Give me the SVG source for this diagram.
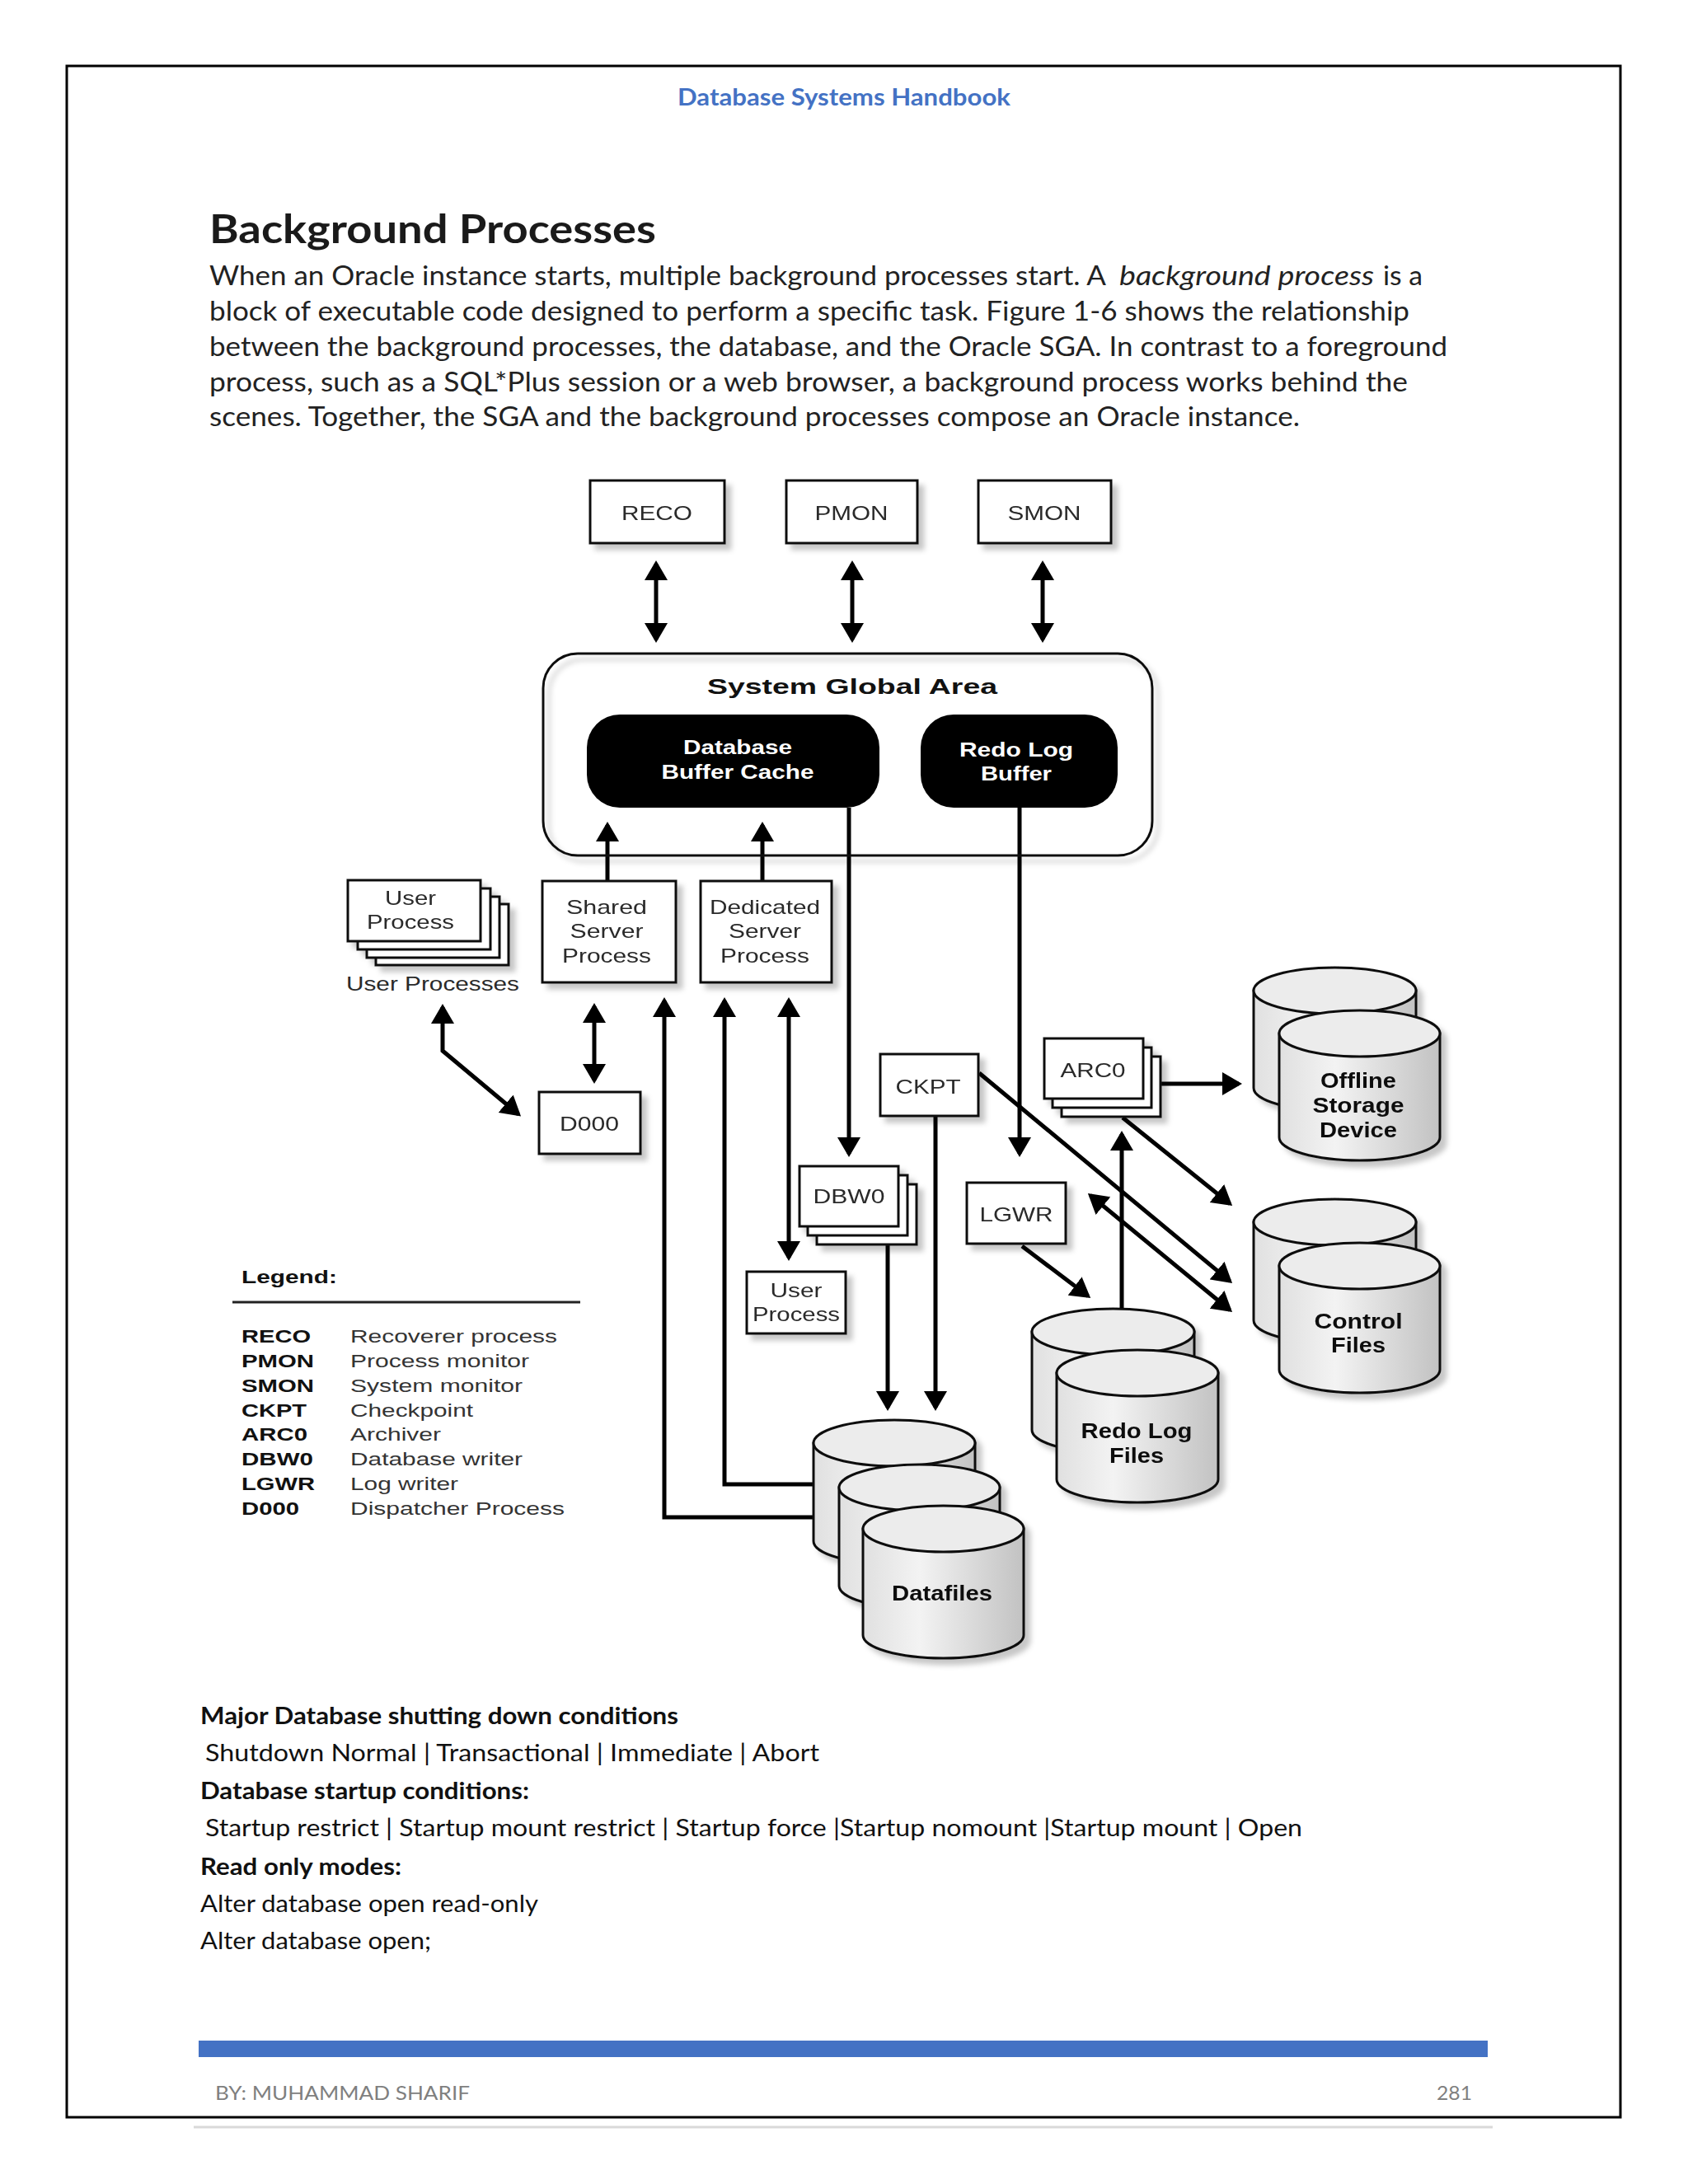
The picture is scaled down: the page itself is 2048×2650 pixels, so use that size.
<svg xmlns="http://www.w3.org/2000/svg" width="2048" height="2650" viewBox="0 0 2048 2650">
<defs>
<style>
.lbl{font-family:"Liberation Sans",Arial,sans-serif;font-size:24px;fill:#2a2a2a;text-anchor:middle}
.lblb{font-family:"Liberation Sans",Arial,sans-serif;font-size:25px;font-weight:bold;fill:#111;text-anchor:middle}
.wl{font-family:"Liberation Sans",Arial,sans-serif;font-size:23px;font-weight:bold;fill:#fff;text-anchor:middle}
.box{fill:#fff;stroke:#111;stroke-width:3}
.conn{fill:none;stroke:#000;stroke-width:5}
.cyl{fill:url(#cg);stroke:#111;stroke-width:3}
.cyltop{fill:#ececec;stroke:#111;stroke-width:3}
.leg{font-family:"Liberation Sans",Arial,sans-serif;font-size:22px;fill:#333}
.legb{font-family:"Liberation Sans",Arial,sans-serif;font-size:22px;font-weight:bold;fill:#111}
.para{font-family:Lato,"Liberation Sans",sans-serif;font-size:32px;fill:#222}
.body{font-family:Lato,"Liberation Sans",sans-serif;font-size:28px;fill:#111}
.bodyb{font-family:Lato,"Liberation Sans",sans-serif;font-size:28px;font-weight:bold;fill:#111}
</style>
<linearGradient id="cg" x1="0" x2="1" y1="0" y2="0">
<stop offset="0" stop-color="#e0e0e0"/><stop offset="0.35" stop-color="#f3f3f3"/><stop offset="1" stop-color="#c2c2c2"/>
</linearGradient>
<filter id="sh" x="-10%" y="-10%" width="130%" height="130%">
<feDropShadow dx="7" dy="7" stdDeviation="3" flood-color="#000" flood-opacity="0.22"/>
</filter>
<marker id="ah" viewBox="0 0 24 28" refX="20" refY="14" markerWidth="24" markerHeight="28" markerUnits="userSpaceOnUse" orient="auto-start-reverse">
<path d="M0,0 L24,14 L0,28 z" fill="#000"/>
</marker>
</defs>

<rect x="0" y="0" width="2048" height="2650" fill="#fff"/>
<rect x="81" y="80" width="1885" height="2489" fill="none" stroke="#000" stroke-width="3"/>

<g id="header">
<text x="1024" y="128" text-anchor="middle" font-family="Lato,'Liberation Sans',sans-serif" font-size="28" font-weight="bold" fill="#4472C4" textLength="404" lengthAdjust="spacingAndGlyphs">Database Systems Handbook</text>
</g>

<g id="intro">
<text x="254" y="295" font-family="Lato,'Liberation Sans',sans-serif" font-size="48" font-weight="bold" fill="#1a1a1a" textLength="542" lengthAdjust="spacingAndGlyphs">Background Processes</text>
<text class="para" x="254" y="346" textLength="1088" lengthAdjust="spacingAndGlyphs">When an Oracle instance starts, multiple background processes start. A</text>
<text class="para" x="1358" y="346" font-style="italic" textLength="309" lengthAdjust="spacingAndGlyphs">background process</text>
<text class="para" x="1678" y="346" textLength="48" lengthAdjust="spacingAndGlyphs">is a</text>
<text class="para" x="254" y="389" textLength="1456" lengthAdjust="spacingAndGlyphs">block of executable code designed to perform a specific task. Figure 1-6 shows the relationship</text>
<text class="para" x="254" y="432" textLength="1502" lengthAdjust="spacingAndGlyphs">between the background processes, the database, and the Oracle SGA. In contrast to a foreground</text>
<text class="para" x="254" y="475" textLength="1454" lengthAdjust="spacingAndGlyphs">process, such as a SQL*Plus session or a web browser, a background process works behind the</text>
<text class="para" x="254" y="517" textLength="1323" lengthAdjust="spacingAndGlyphs">scenes. Together, the SGA and the background processes compose an Oracle instance.</text>
</g>

<g id="connectors">
<path class="conn" d="M796,684 V776" marker-start="url(#ah)" marker-end="url(#ah)"/>
<path class="conn" d="M1034,684 V776" marker-start="url(#ah)" marker-end="url(#ah)"/>
<path class="conn" d="M1265,684 V776" marker-start="url(#ah)" marker-end="url(#ah)"/>
<path class="conn" d="M737,1069 V1001" marker-end="url(#ah)"/>
<path class="conn" d="M925,1069 V1001" marker-end="url(#ah)"/>
<path class="conn" d="M1030,980 V1400" marker-end="url(#ah)"/>
<path class="conn" d="M1237,980 V1400" marker-end="url(#ah)"/>
<path class="conn" d="M721,1221 V1311" marker-start="url(#ah)" marker-end="url(#ah)"/>
<path class="conn" d="M537,1222 V1275 L629,1352" marker-start="url(#ah)" marker-end="url(#ah)"/>
<path class="conn" d="M995,1841 H806 V1214" marker-end="url(#ah)"/>
<path class="conn" d="M995,1801 H879 V1214" marker-end="url(#ah)"/>
<path class="conn" d="M957,1214 V1526" marker-start="url(#ah)" marker-end="url(#ah)"/>
<path class="conn" d="M1077,1490 V1708" marker-end="url(#ah)"/>
<path class="conn" d="M1135,1354 V1708" marker-end="url(#ah)"/>
<path class="conn" d="M1387,1315 H1503" marker-end="url(#ah)"/>
<path class="conn" d="M1362,1356 L1492,1460.5" marker-end="url(#ah)"/>
<path class="conn" d="M1188,1302 L1492,1554.4" marker-end="url(#ah)"/>
<path class="conn" d="M1323,1450.5 L1492,1589.5" marker-start="url(#ah)" marker-end="url(#ah)"/>
<path class="conn" d="M1240,1512 L1320,1572.6" marker-end="url(#ah)"/>
<path class="conn" d="M1361,1590 V1376" marker-end="url(#ah)"/>
</g>

<g id="reco" filter="url(#sh)">
<rect class="box" x="716" y="583" width="163" height="76"/>
<text class="lbl" x="797" y="631" textLength="86" lengthAdjust="spacingAndGlyphs">RECO</text>
</g>
<g id="pmon" filter="url(#sh)">
<rect class="box" x="954" y="583" width="159" height="76"/>
<text class="lbl" x="1033" y="631" textLength="89" lengthAdjust="spacingAndGlyphs">PMON</text>
</g>
<g id="smon" filter="url(#sh)">
<rect class="box" x="1187" y="583" width="161" height="76"/>
<text class="lbl" x="1267" y="631" textLength="89" lengthAdjust="spacingAndGlyphs">SMON</text>
</g>

<g id="sga">
<rect x="659" y="793" width="739" height="245" rx="42" ry="42" fill="none" stroke="#111" stroke-width="3" filter="url(#sh)"/>
<text class="lblb" x="1034" y="842" font-size="29" textLength="352" lengthAdjust="spacingAndGlyphs">System Global Area</text>
</g>
<g id="buffer-cache">
<rect x="712" y="867" width="355" height="113" rx="40" ry="40" fill="#000"/>
<text class="wl" x="895" y="915" textLength="132" lengthAdjust="spacingAndGlyphs">Database</text>
<text class="wl" x="895" y="945" textLength="185" lengthAdjust="spacingAndGlyphs">Buffer Cache</text>
</g>
<g id="redo-buffer">
<rect x="1117" y="867" width="239" height="113" rx="40" ry="40" fill="#000"/>
<text class="wl" x="1233" y="918" textLength="138" lengthAdjust="spacingAndGlyphs">Redo Log</text>
<text class="wl" x="1233" y="947" textLength="86" lengthAdjust="spacingAndGlyphs">Buffer</text>
</g>

<g id="user-processes" filter="url(#sh)">
<rect class="box" x="456" y="1097" width="161" height="74"/>
<rect class="box" x="445" y="1088" width="161" height="74"/>
<rect class="box" x="434" y="1078" width="161" height="74"/>
<rect class="box" x="422" y="1068" width="161" height="74"/>
<text class="lbl" x="498" y="1098" textLength="62" lengthAdjust="spacingAndGlyphs">User</text>
<text class="lbl" x="498" y="1127" textLength="106" lengthAdjust="spacingAndGlyphs">Process</text>
</g>
<text class="lbl" x="525" y="1202" textLength="210" lengthAdjust="spacingAndGlyphs">User Processes</text>

<g id="shared-server" filter="url(#sh)">
<rect class="box" x="658" y="1069" width="162" height="123"/>
<text class="lbl" x="736" y="1109" textLength="98" lengthAdjust="spacingAndGlyphs">Shared</text>
<text class="lbl" x="736" y="1138" textLength="89" lengthAdjust="spacingAndGlyphs">Server</text>
<text class="lbl" x="736" y="1168" textLength="108" lengthAdjust="spacingAndGlyphs">Process</text>
</g>
<g id="dedicated-server" filter="url(#sh)">
<rect class="box" x="850" y="1069" width="159" height="123"/>
<text class="lbl" x="928" y="1109" textLength="134" lengthAdjust="spacingAndGlyphs">Dedicated</text>
<text class="lbl" x="928" y="1138" textLength="88" lengthAdjust="spacingAndGlyphs">Server</text>
<text class="lbl" x="928" y="1168" textLength="108" lengthAdjust="spacingAndGlyphs">Process</text>
</g>

<g id="d000" filter="url(#sh)">
<rect class="box" x="654" y="1325" width="123" height="75"/>
<text class="lbl" x="715" y="1372" textLength="72" lengthAdjust="spacingAndGlyphs">D000</text>
</g>

<g id="ckpt" filter="url(#sh)">
<rect class="box" x="1068" y="1279" width="119" height="75"/>
<text class="lbl" x="1126" y="1327" textLength="79" lengthAdjust="spacingAndGlyphs">CKPT</text>
</g>

<g id="arc0" filter="url(#sh)">
<rect class="box" x="1288" y="1282" width="120" height="73"/>
<rect class="box" x="1277" y="1271" width="120" height="73"/>
<rect class="box" x="1267" y="1260" width="120" height="73"/>
<text class="lbl" x="1326" y="1307" textLength="79" lengthAdjust="spacingAndGlyphs">ARC0</text>
</g>

<g id="dbw0" filter="url(#sh)">
<rect class="box" x="991" y="1437" width="121" height="73"/>
<rect class="box" x="980" y="1426" width="121" height="73"/>
<rect class="box" x="970" y="1415" width="120" height="73"/>
<text class="lbl" x="1030" y="1460" textLength="87" lengthAdjust="spacingAndGlyphs">DBW0</text>
</g>

<g id="lgwr" filter="url(#sh)">
<rect class="box" x="1173" y="1435" width="120" height="74"/>
<text class="lbl" x="1233" y="1482" textLength="89" lengthAdjust="spacingAndGlyphs">LGWR</text>
</g>

<g id="user-process-2" filter="url(#sh)">
<rect class="box" x="906" y="1543" width="120" height="75"/>
<text class="lbl" x="966" y="1574" textLength="63" lengthAdjust="spacingAndGlyphs">User</text>
<text class="lbl" x="966" y="1603" textLength="106" lengthAdjust="spacingAndGlyphs">Process</text>
</g>

<g id="offline-storage" filter="url(#sh)">
<path class="cyl" d="M1521,1202 V1320 A98.5,28 0 0 0 1718,1320 V1202 Z"/>
<ellipse class="cyltop" cx="1619.5" cy="1202" rx="98.5" ry="28"/>
<path class="cyl" d="M1552,1254 V1380 A97.5,28 0 0 0 1747,1380 V1254 Z"/>
<ellipse class="cyltop" cx="1649.5" cy="1254" rx="97.5" ry="28"/>
<text class="lblb" x="1648" y="1320" textLength="92" lengthAdjust="spacingAndGlyphs">Offline</text>
<text class="lblb" x="1648" y="1350" textLength="111" lengthAdjust="spacingAndGlyphs">Storage</text>
<text class="lblb" x="1648" y="1380" textLength="94" lengthAdjust="spacingAndGlyphs">Device</text>
</g>

<g id="control-files" filter="url(#sh)">
<path class="cyl" d="M1521,1483 V1602 A98.5,28 0 0 0 1718,1602 V1483 Z"/>
<ellipse class="cyltop" cx="1619.5" cy="1483" rx="98.5" ry="28"/>
<path class="cyl" d="M1552,1536 V1662 A97.5,28 0 0 0 1747,1662 V1536 Z"/>
<ellipse class="cyltop" cx="1649.5" cy="1536" rx="97.5" ry="28"/>
<text class="lblb" x="1648" y="1612" textLength="107" lengthAdjust="spacingAndGlyphs">Control</text>
<text class="lblb" x="1648" y="1641" textLength="66" lengthAdjust="spacingAndGlyphs">Files</text>
</g>

<g id="redo-log-files" filter="url(#sh)">
<path class="cyl" d="M1252,1616 V1735 A98.5,28 0 0 0 1449,1735 V1616 Z"/>
<ellipse class="cyltop" cx="1350.5" cy="1616" rx="98.5" ry="28"/>
<path class="cyl" d="M1282,1666 V1795 A98,28 0 0 0 1478,1795 V1666 Z"/>
<ellipse class="cyltop" cx="1380" cy="1666" rx="98" ry="28"/>
<text class="lblb" x="1379" y="1745" textLength="135" lengthAdjust="spacingAndGlyphs">Redo Log</text>
<text class="lblb" x="1379" y="1775" textLength="66" lengthAdjust="spacingAndGlyphs">Files</text>
</g>

<g id="datafiles" filter="url(#sh)">
<path class="cyl" d="M987,1751 V1870 A98,28 0 0 0 1183,1870 V1751 Z"/>
<ellipse class="cyltop" cx="1085" cy="1751" rx="98" ry="28"/>
<path class="cyl" d="M1018,1805 V1924 A97.5,28 0 0 0 1213,1924 V1805 Z"/>
<ellipse class="cyltop" cx="1115.5" cy="1805" rx="97.5" ry="28"/>
<path class="cyl" d="M1047,1855 V1984 A97.5,28 0 0 0 1242,1984 V1855 Z"/>
<ellipse class="cyltop" cx="1144.5" cy="1855" rx="97.5" ry="28"/>
<text class="lblb" x="1143" y="1942" textLength="122" lengthAdjust="spacingAndGlyphs">Datafiles</text>
</g>

<g id="legend">
<text class="legb" x="293" y="1557" textLength="116" lengthAdjust="spacingAndGlyphs">Legend:</text>
<path d="M282,1580 H704" stroke="#222" stroke-width="3"/>
<text class="legb" x="293" y="1629" textLength="84" lengthAdjust="spacingAndGlyphs">RECO</text>
<text class="leg" x="425" y="1629" textLength="251" lengthAdjust="spacingAndGlyphs">Recoverer process</text>
<text class="legb" x="293" y="1659" textLength="88" lengthAdjust="spacingAndGlyphs">PMON</text>
<text class="leg" x="425" y="1659" textLength="217" lengthAdjust="spacingAndGlyphs">Process monitor</text>
<text class="legb" x="293" y="1689" textLength="88" lengthAdjust="spacingAndGlyphs">SMON</text>
<text class="leg" x="425" y="1689" textLength="209" lengthAdjust="spacingAndGlyphs">System monitor</text>
<text class="legb" x="293" y="1719" textLength="79" lengthAdjust="spacingAndGlyphs">CKPT</text>
<text class="leg" x="425" y="1719" textLength="149" lengthAdjust="spacingAndGlyphs">Checkpoint</text>
<text class="legb" x="293" y="1748" textLength="80" lengthAdjust="spacingAndGlyphs">ARC0</text>
<text class="leg" x="425" y="1748" textLength="110" lengthAdjust="spacingAndGlyphs">Archiver</text>
<text class="legb" x="293" y="1778" textLength="87" lengthAdjust="spacingAndGlyphs">DBW0</text>
<text class="leg" x="425" y="1778" textLength="209" lengthAdjust="spacingAndGlyphs">Database writer</text>
<text class="legb" x="293" y="1808" textLength="89" lengthAdjust="spacingAndGlyphs">LGWR</text>
<text class="leg" x="425" y="1808" textLength="131" lengthAdjust="spacingAndGlyphs">Log writer</text>
<text class="legb" x="293" y="1838" textLength="70" lengthAdjust="spacingAndGlyphs">D000</text>
<text class="leg" x="425" y="1838" textLength="260" lengthAdjust="spacingAndGlyphs">Dispatcher Process</text>
</g>

<g id="notes">
<text class="bodyb" x="243" y="2092" textLength="580" lengthAdjust="spacingAndGlyphs">Major Database shutting down conditions</text>
<text class="body" x="249" y="2137" textLength="745" lengthAdjust="spacingAndGlyphs">Shutdown Normal | Transactional | Immediate | Abort</text>
<text class="bodyb" x="243" y="2183" textLength="399" lengthAdjust="spacingAndGlyphs">Database startup conditions:</text>
<text class="body" x="249" y="2228" textLength="1331" lengthAdjust="spacingAndGlyphs">Startup restrict | Startup mount restrict | Startup force |Startup nomount |Startup mount | Open</text>
<text class="bodyb" x="243" y="2275" textLength="244" lengthAdjust="spacingAndGlyphs">Read only modes:</text>
<text class="body" x="243" y="2320" textLength="410" lengthAdjust="spacingAndGlyphs">Alter database open read-only</text>
<text class="body" x="243" y="2365" textLength="280" lengthAdjust="spacingAndGlyphs">Alter database open;</text>
</g>

<g id="footer">
<rect x="241" y="2476" width="1564" height="20" fill="#4472C4"/>
<text x="261" y="2548" font-family="Lato,'Liberation Sans',sans-serif" font-size="24" fill="#7f7f7f" textLength="309" lengthAdjust="spacingAndGlyphs">BY: MUHAMMAD SHARIF</text>
<text x="1786" y="2548" text-anchor="end" font-family="Lato,'Liberation Sans',sans-serif" font-size="24" fill="#7f7f7f" textLength="43" lengthAdjust="spacingAndGlyphs">281</text>
<path d="M235,2581 H1811" stroke="#d9d9d9" stroke-width="3"/>
</g>
</svg>
